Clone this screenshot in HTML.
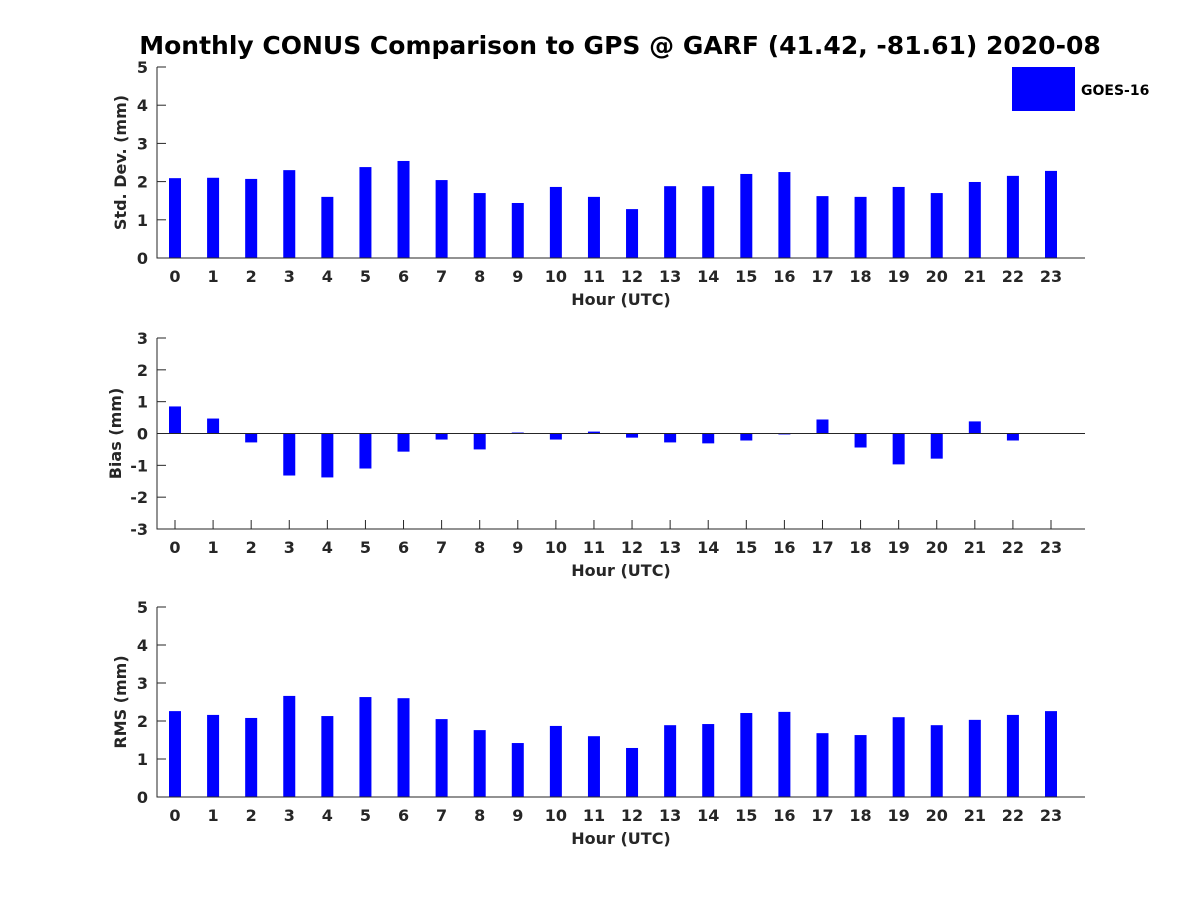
<!DOCTYPE html>
<html><head><meta charset="utf-8"><style>
body{margin:0;background:#fff}
svg text{font-family:"DejaVu Sans","Liberation Sans",sans-serif;font-weight:bold;fill:#262626}
</style></head><body>
<svg id="c" width="1200" height="900" xmlns="http://www.w3.org/2000/svg">
<text x="620" y="54" text-anchor="middle" font-size="25" style="fill:#000">Monthly CONUS Comparison to GPS @ GARF (41.42, -81.61) 2020-08</text>
<rect x="1012" y="67" width="63" height="44" fill="#0000ff"/>
<text x="1081" y="95" font-size="14" style="fill:#000">GOES-16</text>
</svg>
<script>
const hours=[0,1,2,3,4,5,6,7,8,9,10,11,12,13,14,15,16,17,18,19,20,21,22,23];
const stdDev=[2.09,2.1,2.07,2.3,1.6,2.38,2.54,2.04,1.7,1.44,1.86,1.6,1.28,1.88,1.88,2.2,2.25,1.62,1.6,1.86,1.7,1.99,2.15,2.28];
const bias=[0.85,0.47,-0.28,-1.32,-1.38,-1.1,-0.57,-0.19,-0.5,0.03,-0.19,0.06,-0.13,-0.28,-0.31,-0.22,-0.03,0.44,-0.44,-0.97,-0.79,0.38,-0.22,-0.01];
const rms=[2.26,2.16,2.08,2.66,2.13,2.63,2.6,2.05,1.76,1.42,1.87,1.6,1.29,1.89,1.92,2.21,2.24,1.68,1.63,2.1,1.89,2.03,2.16,2.26];
const stdTicks=[0,1,2,3,4,5];
const biasTicks=[-3,-2,-1,0,1,2,3];
const rmsTicks=[0,1,2,3,4,5];
const svg=document.getElementById('c');
const NS='http://www.w3.org/2000/svg';
function mk(t,a,p){const e=document.createElementNS(NS,t);for(const k in a)e.setAttribute(k,a[k]);(p||svg).appendChild(e);return e;}
const xL=157,xR=1085;
const xs=h=>175+h*(876/23);
function panel(name,top,bot,ymin,ymax,vals,ticks,ylabel,lx){
  const g=mk('g',{});
  
  
  const ys=v=>bot-(v-ymin)/(ymax-ymin)*(bot-top);
  vals.forEach((v,i)=>{
    const y0=ys(0),y1=ys(v);
    const r=mk('rect',{x:xs(hours[i])-6,y:Math.min(y0,y1),width:12,height:Math.abs(y1-y0),fill:'#0000ff'},g);
    
    
  });
  if(ymin<0){const z=mk('line',{x1:xL,x2:xR,y1:ys(0),y2:ys(0),stroke:'#262626','stroke-width':1},g);
    }
  const ax=mk('path',{d:`M${xL},${top}V${bot}H${xR}`,stroke:'#262626',fill:'none','stroke-width':1},g);
  
  ticks.forEach(t=>{
    mk('line',{x1:xL,x2:xL+9,y1:ys(t),y2:ys(t),stroke:'#262626'},g);
    const tx=mk('text',{x:xL-9,y:ys(t)+6,'text-anchor':'end','font-size':16},g);
    tx.textContent=t;
    
  });
  hours.forEach(h=>{
    if(ymin<0) mk('line',{x1:xs(h),x2:xs(h),y1:bot,y2:bot-9,stroke:'#262626'},g);
    const tx=mk('text',{x:xs(h),y:bot+24,'text-anchor':'middle','font-size':16},g);
    tx.textContent=h;
    
  });
  const xl=mk('text',{x:621,y:bot+47,'text-anchor':'middle','font-size':16},g);
  xl.textContent='Hour (UTC)';
  
  const cy=(top+bot)/2;
  const yl=mk('text',{x:lx,y:cy,'text-anchor':'middle','font-size':16,transform:`rotate(-90 ${lx} ${cy})`},g);
  yl.textContent=ylabel;
  
}
panel('std-dev',67,258,0,5,stdDev,stdTicks,'Std. Dev. (mm)',126);
panel('bias',338,529,-3,3,bias,biasTicks,'Bias (mm)',121);
panel('rms',607,797,0,5,rms,rmsTicks,'RMS (mm)',126);
</script>
</body></html>
